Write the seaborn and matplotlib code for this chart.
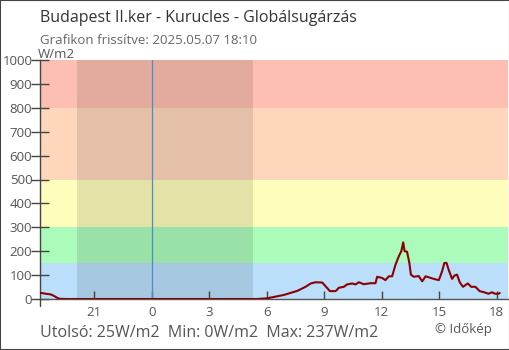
import matplotlib
matplotlib.use("Agg")
import matplotlib.pyplot as plt
import seaborn as sns
import pandas as pd
from matplotlib.patches import Rectangle

# Global radiation readings (hours relative to midnight, W/m2)
hours = [-5.833, -5.52, -5.26, -5.08, -4.96, -4.82, -4.47, -4.0, -2.0, 0.0, 2.0, 4.0, 5.16, 5.5,
         6.03, 6.9, 7.6, 8.03, 8.3, 8.55, 8.9, 9.08, 9.3, 9.6, 9.77, 10.03, 10.2, 10.47,
         10.64, 10.81, 11.07, 11.42, 11.68, 11.77, 12.03, 12.2, 12.38, 12.55, 12.73, 12.9,
         13.03, 13.13, 13.2, 13.33, 13.45, 13.53, 13.68, 13.94, 14.12, 14.3, 14.73, 14.99,
         15.16, 15.28, 15.39, 15.5, 15.68, 15.8, 15.94, 16.08, 16.25, 16.5, 16.68, 16.9,
         17.12, 17.36, 17.58, 17.76, 17.93, 18.1, 18.167]
radiation = [26, 22, 19, 12, 6, 1, 0, 0, 0, 0, 0, 0, 0, 0,
             3, 17, 34, 51, 65, 70, 69, 53, 33, 33, 47, 51, 61, 65,
             61, 70, 62, 66, 66, 93, 88, 79, 95, 95, 144, 179,
             200, 237, 200, 198, 151, 102, 93, 96, 74, 95, 84, 79,
             116, 151, 151, 123, 84, 98, 102, 70, 51, 65, 51, 51,
             33, 28, 22, 28, 22, 22, 25]

# Intensity bands (lower, upper, colour)
band_edges = [0, 150, 300, 500, 800, 1000]
band_colors = ["#bbdffb", "#abfbbb", "#fefdbb", "#fed6bc", "#fdbfb1"]

# Night period (sunset -> sunrise), hours relative to midnight
night_start, night_end = -3.92, 5.27

tick_hours = [-3, 0, 3, 6, 9, 12, 15, 18]
tick_labels = [str(h % 24) for h in tick_hours]
y_ticks = [0, 100, 200, 300, 400, 500, 600, 700, 800, 900, 1000]

sns.set_theme(style="white")
plt.rcParams["font.family"] = ["Open Sans", "DejaVu Sans"]

fig = plt.figure(figsize=(5.1, 3.5), dpi=100)
ax = fig.add_axes([40 / 510, 51 / 350, 468 / 510, 239 / 350])

x_min, x_max = -5.833, 18.6
for lo, hi, c in zip(band_edges[:-1], band_edges[1:], band_colors):
    ax.axhspan(lo, hi, color=c, lw=0, zorder=0)
ax.axvspan(night_start, night_end, color="black", alpha=0.1, lw=0, zorder=1)
ax.axvline(0, color="#4a8fc4", lw=0.9, zorder=2)

df = pd.DataFrame({"hour": hours, "radiation": radiation})
sns.lineplot(data=df, x="hour", y="radiation", ax=ax, color="#8b0000",
             linewidth=1.5, zorder=3)

ax.set_xlim(x_min, x_max)
ax.set_ylim(0, 1000)
ax.set_xticks(tick_hours)
ax.set_xticklabels(tick_labels)
ax.set_yticks(y_ticks)
ax.set_xlabel("")
ax.set_ylabel("")

for side in ("top", "right"):
    ax.spines[side].set_visible(False)
ax.spines["left"].set_color("#444444")
ax.spines["bottom"].set_color("#555555")
ax.spines["left"].set_linewidth(1.0)
ax.spines["bottom"].set_linewidth(1.0)
ax.plot([0, 0], [-0.03, 0], transform=ax.transAxes, color="#444444", lw=1.0,
        clip_on=False, zorder=5)

ax.tick_params(axis="y", direction="inout", length=13, width=1, color="#444444",
               labelsize=9.5, labelcolor="#555555", pad=-1, left=True)
ax.tick_params(axis="x", direction="in", length=6, width=1, color="#444444",
               labelsize=9.5, labelcolor="#555555", pad=5, bottom=True)

fig.text(40 / 510, 1 - 18 / 350, "Budapest II.ker - Kurucles - Globálsugárzás",
         fontsize=11.5, color="#333333", va="center", ha="left")
fig.text(40 / 510, 1 - 40 / 350, "Grafikon frissítve: 2025.05.07 18:10",
         fontsize=9.5, color="#666666", va="center", ha="left")
fig.text(38 / 510, 1 - 54 / 350, "W/m2", fontsize=9.5, color="#555555",
         va="center", ha="left")

summary = f"Utolsó: {radiation[-1]}W/m2  Min: {min(radiation)}W/m2  Max: {max(radiation)}W/m2"
fig.text(40 / 510, 1 - 333 / 350, summary, fontsize=11.5, color="#555555",
         va="center", ha="left")
fig.text(492 / 510, 1 - 330 / 350, "© Időkép", fontsize=9.5, color="#555555",
         va="center", ha="right")

fig.patches.append(Rectangle((0, 0), 1, 1, transform=fig.transFigure, fill=False,
                             edgecolor="#444444", lw=1.5, zorder=10))

fig.savefig("out.png", dpi=100)
